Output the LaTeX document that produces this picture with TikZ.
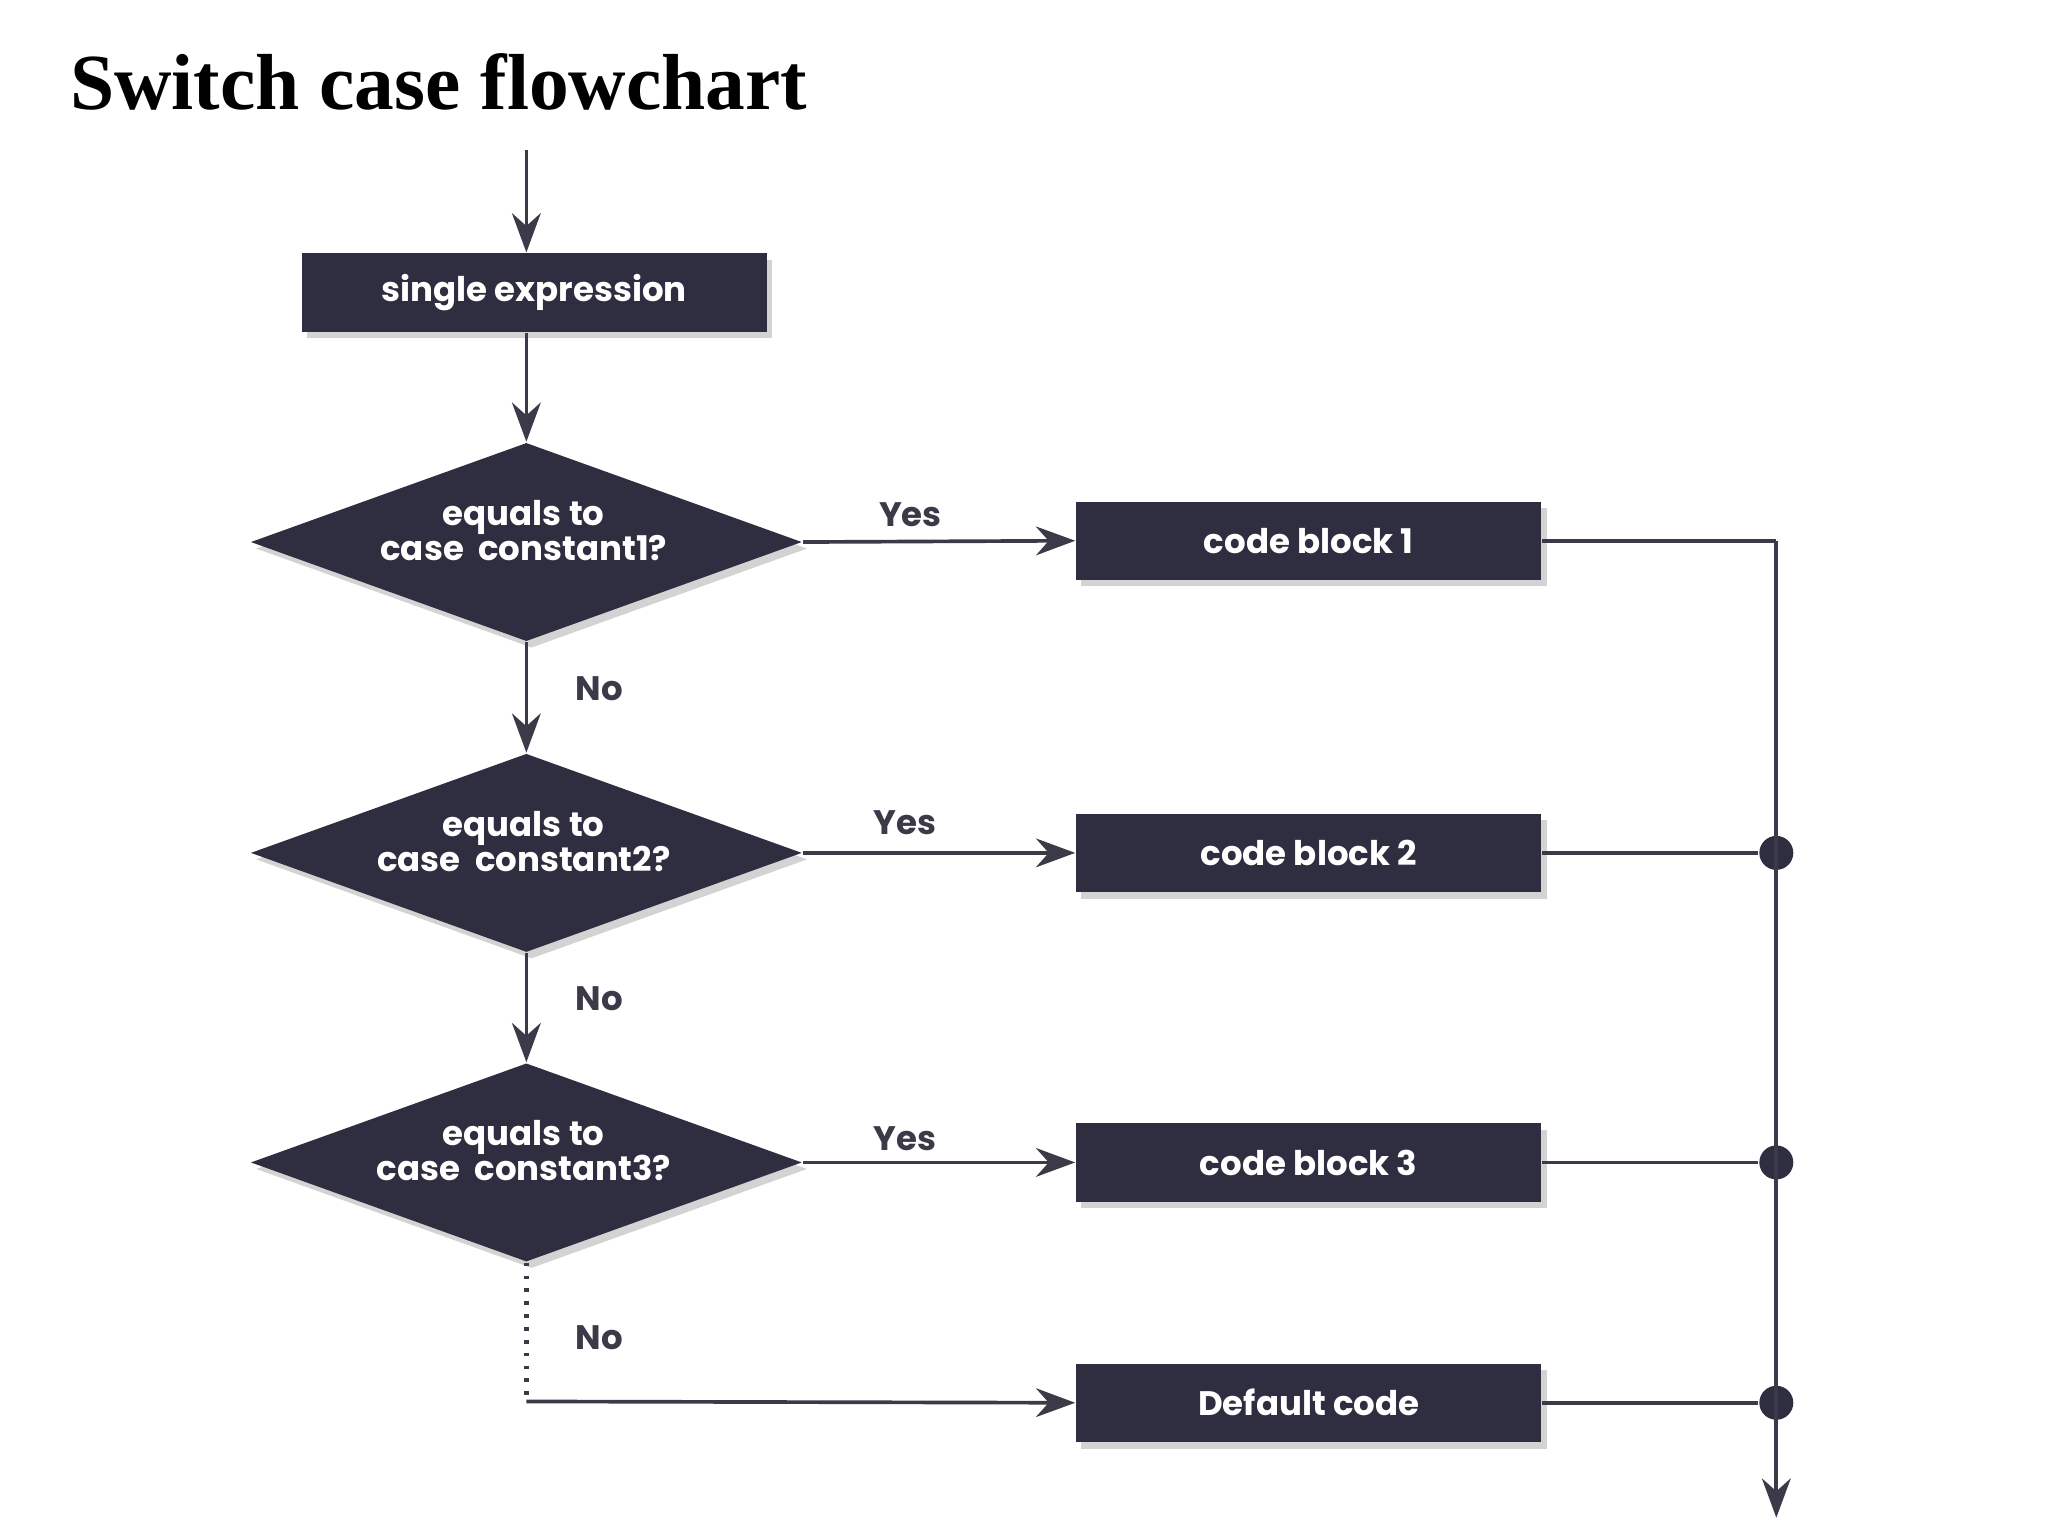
\documentclass[tikz,border=0pt]{standalone}
\usepackage{fontspec}
\setmainfont{Liberation Serif}
\newfontfamily\pop{Poppins}
\usetikzlibrary{shapes.geometric,arrows.meta,shadows}
\definecolor{boxc}{HTML}{2E2E40}
\definecolor{linec}{HTML}{3A3A48}
\begin{document}
\begin{tikzpicture}[x=0.01cm,y=-0.01cm,
  blk/.style={fill=boxc,text=white,minimum width=3.56cm,minimum height=0.6cm,inner sep=0,font=\pop\bfseries\fontsize{7.4}{8}\selectfont,drop shadow={shadow xshift=0.04cm,shadow yshift=-0.05cm,opacity=0.35}},
  dia/.style={diamond,fill=boxc,minimum width=4.22cm,minimum height=1.52cm,inner sep=0,aspect=2.78,drop shadow={shadow xshift=0.04cm,shadow yshift=-0.05cm,opacity=0.35}},
  dtxt/.style={text=white,font=\pop\bfseries\fontsize{7.4}{7.6}\selectfont,align=center,inner sep=0},
  arr/.style={draw=linec,line width=0.8pt,-{Stealth[length=0.3cm,width=0.22cm]}},
  ln/.style={draw=linec,line width=0.8pt},
  lab/.style={text=linec,font=\pop\bfseries\fontsize{7.4}{8}\selectfont},
  dot/.style={circle,fill=boxc,minimum size=0.26cm,inner sep=0}]
\useasboundingbox (0,0) rectangle (1568,1176);
\node[anchor=base west,inner sep=0,font=\bfseries\fontsize{17.3}{18}\selectfont] (title) at (53,84) {Switch case flowchart};
\coordinate (start) at (403,115);
\node[blk] (se) at (409,224) {single expression};
\node[dia] (d1) at (403,415) {};
\node[dia] (d2) at (403,653) {};
\node[dia] (d3) at (403,890) {};
\node[dtxt] (t1) at (401,406) {equals to\\case\ \ constant1?};
\node[dtxt] (t2) at (401,644) {equals to\\case\ \ constant2?};
\node[dtxt] (t3) at (401,881) {equals to\\case\ \ constant3?};
\node[blk] (c1) at (1002,414) {code block 1};
\node[blk] (c2) at (1002,653) {code block 2};
\node[blk] (c3) at (1002,890) {code block 3};
\node[blk] (df) at (1002,1074) {Default code};
\coordinate (corner) at (403,1073);
\coordinate (rt) at (1360,414);
\coordinate (rb) at (1360,1162);
\node[dot] (p2) at (1360,653) {};
\node[dot] (p3) at (1360,890) {};
\node[dot] (p4) at (1360,1074) {};
\node[lab] (y1) at (697,394) {Yes};
\node[lab] (y2) at (693,630) {Yes};
\node[lab] (y3) at (693,872) {Yes};
\node[lab] (n1) at (459,527) {No};
\node[lab] (n2) at (459,765) {No};
\node[lab] (n3) at (459,1024) {No};
\draw[arr] (start) -- (start |- se.north);
\draw[arr] (se.south -| d1) -- (d1.north);
\draw[arr] (d1.east) -- (c1.west);
\draw[arr] (d2.east) -- (c2.west);
\draw[arr] (d3.east) -- (c3.west);
\draw[arr] (d1.south) -- (d2.north);
\draw[arr] (d2.south) -- (d3.north);
\draw[ln,dotted,line width=1.2pt] (d3.south) -- (corner);
\draw[arr] (corner) -- (df.west);
\draw[ln] (c1.east) -- (rt);
\draw[arr] (rt) -- (rb);
\draw[ln] (c2.east) -- (p2);
\draw[ln] (c3.east) -- (p3);
\draw[ln] (df.east) -- (p4);
\end{tikzpicture}
\end{document}
